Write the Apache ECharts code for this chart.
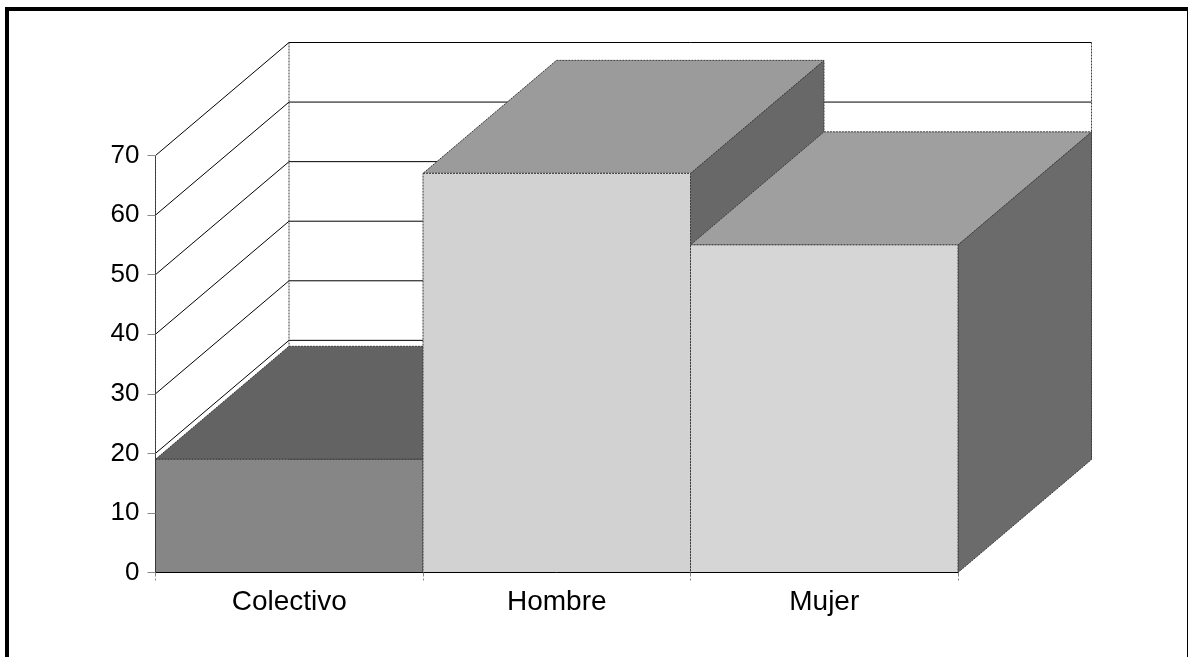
<!DOCTYPE html>
<html><head><meta charset="utf-8">
<style>html,body{margin:0;padding:0;background:#fff}#c{width:1188px;height:657px}</style>
<script src="https://cdn.jsdelivr.net/npm/echarts@6/dist/echarts.min.js"></script>
</head><body><div id="c"></div>
<script>
const categories = ['Colectivo', 'Hombre', 'Mujer'];
const barValues = [19, 67, 55];
const wallTicks = [0, 10, 20, 30, 40, 50, 60, 70];
const frontColors = ['#868686', '#d2d2d2', '#d6d6d6'];
const topColors = ['#636363', '#9b9b9b', '#9f9f9f'];
const sideColors = ['#4a4a4a', '#686868', '#6b6b6b'];

const depthX = 133.5, depthY = -113;
const edge = {stroke: '#3a3a3a', lineWidth: 1, lineDash: [2, 1]};
const poly = (pts, fill) => ({type: 'polygon', shape: {points: pts}, style: Object.assign({fill}, edge)});
const back = p => [p[0] + depthX, p[1] + depthY];
const line = (a, b, style) => ({type: 'line', shape: {x1: a[0], y1: a[1], x2: b[0], y2: b[1]}, style});

const chart = echarts.init(document.getElementById('c'), null, {renderer: 'canvas'});
chart.setOption({
  animation: false,
  backgroundColor: '#fff',
  graphic: [
    {type: 'rect', shape: {x: 7, y: 9, width: 1190, height: 660}, style: {fill: 'none', stroke: '#000', lineWidth: 4}, z: 100, silent: true},
    {type: 'line', shape: {x1: 1187.5, y1: 9, x2: 1187.5, y2: 657}, style: {stroke: '#000', lineWidth: 1}, z: 100, silent: true}
  ],
  grid: {left: 155.5, width: 802.5, top: 155.5, height: 417},
  xAxis: {
    type: 'category', data: categories, z: 5,
    axisLine: {show: true, lineStyle: {color: '#000', width: 1}},
    axisTick: {show: true, length: 8, alignWithLabel: false, lineStyle: {color: '#888', type: 'dashed'}},
    axisLabel: {color: '#000', fontFamily: 'Liberation Sans', fontSize: 28, margin: 16},
    splitLine: {show: false}
  },
  yAxis: {
    type: 'value', min: 0, max: 70, interval: 10, z: 5,
    axisLine: {show: true, lineStyle: {color: '#333', width: 1, type: [2, 1]}},
    axisTick: {show: true, length: 8, lineStyle: {color: '#888'}},
    axisLabel: {color: '#000', fontFamily: 'Liberation Sans', fontSize: 26, margin: 16},
    splitLine: {show: false}
  },
  series: [
    {
      type: 'custom', coordinateSystem: 'cartesian2d', z: 1, silent: true,
      data: wallTicks.map(v => [0, v]),
      renderItem(params, api) {
        const v = api.value(1);
        const f = api.coord([0, v]);
        const left = [f[0] - api.size([1, 0])[0] / 2, f[1]];
        const b = back(left);
        const right = [b[0] + api.size([1, 0])[0] * categories.length, b[1]];
        const children = [
          line(left, b, {stroke: '#000', lineWidth: 1}),
          line(b, right, {stroke: '#000', lineWidth: 1})
        ];
        if (v === wallTicks[wallTicks.length - 1]) {
          const bl = [b[0], b[1] + api.size([0, v])[1]];
          const br = [right[0], bl[1]];
          children.push(line(b, bl, Object.assign({}, edge)));
          children.push(line(right, br, Object.assign({}, edge)));
        }
        return {type: 'group', children};
      }
    },
    {
      type: 'custom', coordinateSystem: 'cartesian2d', z: 2, silent: true,
      data: barValues.map((v, i) => [i, v]),
      renderItem(params, api) {
        const i = api.value(0), v = api.value(1);
        const w = api.size([1, 0])[0];
        const t = api.coord([i, v]);
        const o = api.coord([i, 0]);
        const x0 = t[0] - w / 2, x1 = t[0] + w / 2;
        const tl = [x0, t[1]], tr = [x1, t[1]], bl = [x0, o[1]], br = [x1, o[1]];
        return {type: 'group', children: [
          poly([br, back(br), back(tr), tr], sideColors[i]),
          poly([tl, tr, back(tr), back(tl)], topColors[i]),
          poly([tl, tr, br, bl], frontColors[i])
        ]};
      }
    }
  ]
});
</script></body></html>
